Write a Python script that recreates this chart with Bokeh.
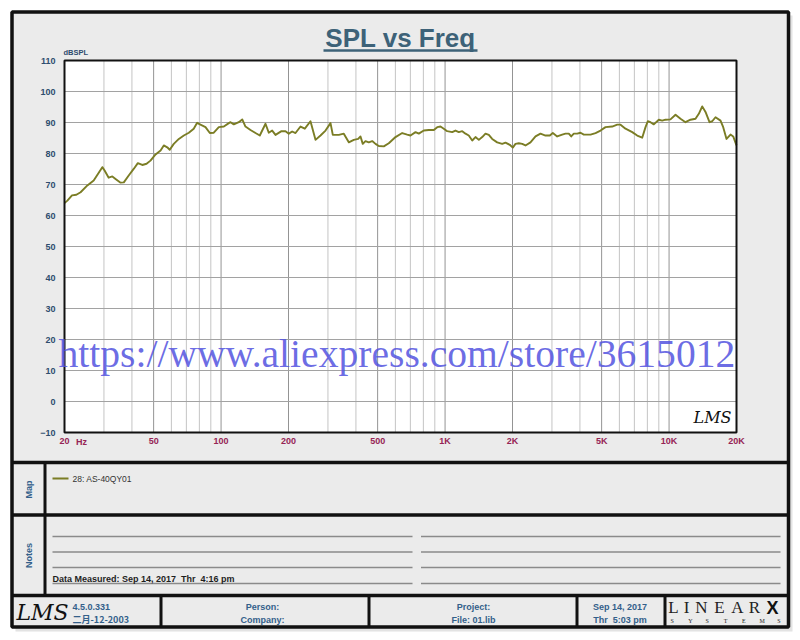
import math
from bokeh.plotting import figure
from bokeh.models import Range1d, LogScale, LinearScale, LinearAxis, LogAxis, FixedTicker
from bokeh.core.properties import value
from bokeh.embed import file_html
from bokeh.resources import INLINE

# ---------------- data ----------------
FREQ_HZ = [20, 20.6, 21.6, 22.6, 23.6, 25.3, 27.0, 28.2, 29.5, 30.2,
           31.5, 32.7, 33.8, 35.6, 36.8, 38.7, 40.8, 42.5, 44.5, 46.5,
           48.4, 51.0, 53.7, 55.5, 57.5, 59.0, 61.5, 64.8, 68.2, 71.8,
           75.5, 78.2, 80.9, 85.2, 89.1, 92.8, 97.7, 102.9, 108.3,
           110.2, 114, 120, 124.3, 128.5, 135.3, 142.5, 148.9, 157.9, 163.3,
           169.1, 175, 186.1, 193.9, 200.6, 207.7, 214.9, 226.3, 236.5, 250.7,
           264, 277.9, 292.6, 308, 315.4, 335.4, 353.1, 371.7, 391.3, 409.4,
           419.2, 429.2, 441.3, 456.5, 472.8, 489.1, 506, 532.6, 560.8,
           600.8, 643.7, 677.6, 700.9, 738, 763.3, 803.6, 846, 890.9, 922.5,
           954, 987, 1022, 1076, 1113, 1152, 1193, 1234, 1276, 1322,
           1367, 1415, 1465, 1515, 1568, 1623, 1709, 1799, 1861, 1945,
           2006, 2062, 2134, 2210, 2286, 2406, 2534, 2667, 2808, 2935,
           3027, 3167, 3333, 3449,
           3568, 3657, 3756, 3890, 4025, 4164, 4461, 4696, 4944, 5204,
           5575, 5869, 6071, 6391, 6847, 7208, 7586, 7850, 8036, 8262,
           8547, 8998, 9320, 9638, 10148, 10684, 11247, 11840, 12464, 13122,
           13576, 14060, 14544, 15154, 15580, 16120, 16970, 17446, 18050, 18804,
           19334, 20000]
SPL_DB = [64.0, 64.8, 66.5, 66.7, 67.5, 69.7, 71.3, 73.4, 75.6, 74.5,
          72.2, 72.6, 71.8, 70.6, 70.7, 72.9, 75.1, 76.9, 76.3, 76.7,
          77.7, 79.7, 81.0, 82.6, 82.0, 81.2, 83.1, 84.7, 85.8, 86.7,
          88.0, 89.9, 89.3, 88.5, 86.6, 86.7, 88.5, 88.7, 89.8,
          90.1, 89.4, 90.1, 91.0, 88.7, 87.6, 86.6, 85.8, 89.6, 86.7,
          87.4, 86.0, 87.2, 87.2, 86.4, 87.1, 86.6, 88.7, 88.0, 90.4,
          84.4, 85.8, 87.4, 89.8, 86.0, 86.0, 86.4, 83.6, 84.4, 84.7,
          85.5, 83.1, 84.0, 83.6, 84.0, 83.1, 82.4, 82.3, 83.3,
          85.3, 86.6, 86.1, 85.8, 86.9, 86.4, 87.4, 87.6, 87.6, 88.5,
          88.7, 88.0, 87.2, 86.9, 87.4, 86.9, 87.2, 86.4, 85.8, 84.2,
          85.3, 84.4, 85.3, 86.4, 86.0, 84.7, 83.6, 83.1, 83.5, 82.8,
          81.9, 83.1, 83.3, 83.1, 82.6, 83.6, 85.5, 86.4, 85.8, 85.8,
          86.6, 85.5, 86.1, 86.4,
          86.4, 85.5, 86.4, 86.4, 86.7, 86.1, 86.1, 86.6, 87.4, 88.5,
          88.7, 89.3, 89.3, 88.0, 86.9, 85.8, 85.1, 88.5, 90.4, 90.1,
          89.4, 90.9, 90.6, 90.9, 91.0, 92.5, 91.2, 90.1, 90.9, 91.2,
          92.8, 95.2, 93.4, 90.1, 90.4, 91.7, 90.6, 88.5, 84.7, 86.1,
          85.5, 82.6]
assert len(FREQ_HZ) == len(SPL_DB)

X_TICKS = [20, 50, 100, 200, 500, 1000, 2000, 5000, 10000, 20000]
X_TICK_LABELS = ["20", "50", "100", "200", "500", "1K", "2K", "5K", "10K", "20K"]
Y_TICKS = list(range(-10, 111, 10))
F_MIN, F_MAX = 20, 20000
DB_MIN, DB_MAX = -10, 110

TITLE = "SPL vs Freq"
Y_UNIT = "dBSPL"
X_UNIT = "Hz"
SERIES_NAME = "28: AS-40QY01"
DATA_MEASURED = "Data Measured: Sep 14, 2017\u00a0 Thr\u00a0 4:16 pm"
VERSION = "4.5.0.331"
BUILD_DATE = "二月-12-2003"
PERSON = "Person:"
COMPANY = "Company:"
PROJECT = "Project:"
FILE_NAME = "File: 01.lib"
PRINT_DATE = "Sep 14, 2017"
PRINT_TIME = "Thr\u00a0 5:03 pm"
WATERMARK = "https://www.aliexpress.com/store/3615012"
LOGO_LMS = "LMS"
LOGO_LINEAR = ["L", "I", "N", "E", "A", "R"]
LOGO_X = "X"
LOGO_SYSTEMS = ["S", "Y", "S", "T", "E", "M", "S"]

# ---------------- layout (pixels) ----------------
W, H = 800, 640
CH_L, CH_R, CH_T, CH_B = 64, 736, 60, 432

dec_per_px = math.log10(F_MAX / F_MIN) / (CH_R - CH_L)
f_lo = F_MIN / 10 ** (CH_L * dec_per_px)
f_hi = F_MAX * 10 ** ((W - CH_R) * dec_per_px)
db_per_px = (DB_MAX - DB_MIN) / (CH_B - CH_T)
db_lo = DB_MIN - (H - CH_B) * db_per_px
db_hi = DB_MAX + CH_T * db_per_px

PANEL = "#ebebeb"
INK = "#111111"
BLUE = "#33608a"
TICKRED = "#962455"
YBLUE = "#2e4d6e"
TITLEC = "#3d6278"
CURVE = "#7b7d25"
FONT = "Liberation Sans"

p = figure(width=W, height=H, x_range=Range1d(0, W), y_range=Range1d(H, 0),
           x_axis_type=None, y_axis_type=None, min_border=0,
           toolbar_location=None, output_backend="svg")
p.outline_line_color = None
p.background_fill_color = "white"
p.border_fill_color = "white"

p.extra_x_ranges = {"f": Range1d(f_lo, f_hi)}
p.extra_x_scales = {"f": LogScale()}
p.extra_y_ranges = {"db": Range1d(db_lo, db_hi)}
p.extra_y_scales = {"db": LinearScale()}


def txt(x, y, s, size="9px", color=BLUE, font=FONT, style="bold",
        align="left", baseline="middle", angle=0.0, alpha=1.0):
    p.text(x=[x], y=[y], text=[s], text_font=value(font), text_font_size=size,
           text_font_style=style, text_color=color, text_align=align,
           text_baseline=baseline, angle=angle, text_alpha=alpha)


# soft shadow of the sheet
p.quad(left=[15], right=[792], top=[15], bottom=[631], fill_color="#d0d0d0",
       fill_alpha=0.6, line_color=None)
# outer panel
p.quad(left=[11.5], right=[788], top=[11.5], bottom=[626.5],
       fill_color=PANEL, line_color=INK, line_width=3.5)
# horizontal dividers
p.segment(x0=[11.5, 11.5, 11.5], x1=[788, 788, 788], y0=[462, 514.5, 595],
          y1=[462, 514.5, 595], line_color=INK, line_width=3.5)
# map / notes label column
p.segment(x0=[44.5], x1=[44.5], y0=[462], y1=[595], line_color=INK, line_width=3)
# footer dividers
fx = [160.5, 368.5, 576.5, 664.5]
p.segment(x0=fx, x1=fx, y0=[595] * 4, y1=[626.5] * 4, line_color=INK, line_width=3)

# notes lines
ny = [536, 551.5, 567, 583]
p.segment(x0=[52] * 4, x1=[412] * 4, y0=ny, y1=ny, line_color="#8a8a8a", line_width=1.5)
p.segment(x0=[420.5] * 4, x1=[780] * 4, y0=ny, y1=ny, line_color="#8a8a8a", line_width=1.5)

# ---------------- chart ----------------
p.quad(left=[F_MIN], right=[F_MAX], bottom=[DB_MIN], top=[DB_MAX],
       x_range_name="f", y_range_name="db", fill_color="white", line_color=None)

grid_f = [m * 10 ** k for k in range(1, 5) for m in range(1, 10)
          if F_MIN < m * 10 ** k < F_MAX]
light = [g for g in grid_f if g not in X_TICKS]
dark = [g for g in grid_f if g in X_TICKS]
p.segment(x0=light, x1=light, y0=[DB_MIN] * len(light), y1=[DB_MAX] * len(light),
          x_range_name="f", y_range_name="db", line_color="#c4c4c4", line_width=1)
p.segment(x0=dark, x1=dark, y0=[DB_MIN] * len(dark), y1=[DB_MAX] * len(dark),
          x_range_name="f", y_range_name="db", line_color="#949494", line_width=1)
p.segment(x0=[F_MIN] * len(Y_TICKS), x1=[F_MAX] * len(Y_TICKS), y0=Y_TICKS, y1=Y_TICKS,
          x_range_name="f", y_range_name="db", line_color="#a2a2a2", line_width=1)

p.line(x=FREQ_HZ, y=SPL_DB, x_range_name="f", y_range_name="db",
       line_color=CURVE, line_width=1.9, line_join="round")

p.quad(left=[F_MIN], right=[F_MAX], bottom=[DB_MIN], top=[DB_MAX],
       x_range_name="f", y_range_name="db", fill_color=None, line_color=INK, line_width=2)

xax = LogAxis(x_range_name="f", y_range_name="db", fixed_location=DB_MIN,
              ticker=FixedTicker(ticks=X_TICKS),
              major_label_overrides={t: l for t, l in zip(X_TICKS, X_TICK_LABELS)})
xax.axis_line_color = None
xax.major_tick_line_color = None
xax.minor_tick_line_color = None
xax.major_label_standoff = -3
xax.major_label_text_font = FONT
xax.major_label_text_font_style = "bold"
xax.major_label_text_font_size = "9px"
xax.major_label_text_color = TICKRED
p.add_layout(xax, "below")

yax = LinearAxis(x_range_name="f", y_range_name="db", fixed_location=F_MIN,
                 ticker=FixedTicker(ticks=Y_TICKS))
yax.axis_line_color = None
yax.major_tick_line_color = None
yax.minor_tick_line_color = None
yax.major_label_standoff = 3
yax.major_label_text_font = FONT
yax.major_label_text_font_style = "bold"
yax.major_label_text_font_size = "9px"
yax.major_label_text_color = YBLUE
p.add_layout(yax, "left")

txt(75.5, 441, X_UNIT, color=TICKRED)
txt(63, 52, Y_UNIT, size="7.5px", color=YBLUE)
txt(712, 417, LOGO_LMS, size="16px", color=INK, font="DejaVu Serif", style="italic",
    align="center")

# title
txt(400, 37.5, TITLE, size="26px", color=TITLEC, align="center")
p.segment(x0=[323], x1=[477], y0=[50], y1=[50], line_color=TITLEC, line_width=2.5)

# map panel
txt(28, 489, "Map", size="9px", color=BLUE, align="center", angle=math.pi / 2)
p.segment(x0=[52], x1=[68], y0=[478], y1=[478], line_color=CURVE, line_width=1.8)
txt(72, 478, SERIES_NAME, size="8.5px", color="#333333", style="normal")

# notes panel
txt(28, 555, "Notes", size="9px", color=BLUE, align="center", angle=math.pi / 2)
txt(52, 578.5, DATA_MEASURED, size="9px", color="#1e1e1e")

# footer
txt(42, 612, LOGO_LMS, size="22px", color=INK, font="DejaVu Serif", style="italic",
    align="center")
txt(72, 606.5, VERSION, color=BLUE)
txt(72, 619, BUILD_DATE, color=BLUE, font="Noto Sans CJK SC")
txt(262, 606.5, PERSON, align="center")
txt(262, 619.5, COMPANY, align="center")
txt(473, 606.5, PROJECT, align="center")
txt(473, 619.5, FILE_NAME, align="center")
txt(619.5, 606.5, PRINT_DATE, align="center")
txt(619.5, 619.5, PRINT_TIME, align="center")

lx = [673, 686, 701, 719, 737, 754]
p.text(x=lx, y=[607] * len(lx), text=LOGO_LINEAR, text_font=value("Liberation Serif"),
       text_font_size="17px", text_color="#222222", text_align="center",
       text_baseline="middle")
txt(772, 607, LOGO_X, size="18px", color=INK, font="Liberation Sans",
    align="center")
sx = [671.7, 690, 706.7, 725, 743.3, 761.7, 778.3]
p.text(x=sx, y=[620] * len(sx), text=LOGO_SYSTEMS, text_font=value("Liberation Serif"),
       text_font_size="6px", text_color="#222222", text_align="center",
       text_baseline="middle")

# watermark
txt(58, 353, WATERMARK, size="39.6px", color="#5252e0", font="Liberation Serif",
    style="normal", alpha=0.85)

open("out.html", "w").write(file_html(p, INLINE))
